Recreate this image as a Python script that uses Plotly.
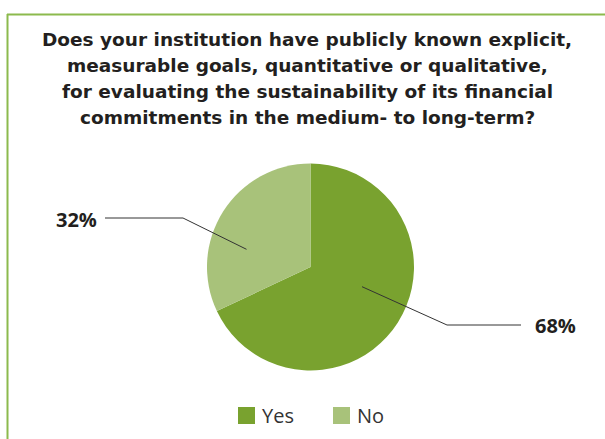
import plotly.graph_objects as go

# Survey answers and their shares (percent)
categories = ["Yes", "No"]
shares = [68, 32]
colors = ["#79a22f", "#a8c27a"]

title_lines = [
    "Does your institution have publicly known explicit,",
    "measurable goals, quantitative or qualitative,",
    "for evaluating the sustainability of its financial",
    "commitments in the medium- to long-term?",
]

W, H = 605, 439
TEXT = "#231f20"
FRAME = "#8cba4d"


def px(x):
    return x / W


def py(y):
    return 1 - y / H


# Pie geometry in pixels
cx, cy, r = 310.5, 267, 103.5

fig = go.Figure(
    go.Pie(
        labels=categories,
        values=shares,
        marker=dict(colors=colors, line=dict(width=0)),
        sort=False,
        direction="clockwise",
        rotation=0,
        textinfo="none",
        hoverinfo="label+percent",
        showlegend=False,
        domain=dict(x=[px(cx - r), px(cx + r)], y=[py(cy + r), py(cy - r)]),
    )
)

shapes = [
    # frame lines along top and left
    dict(type="line", xref="paper", yref="paper", x0=px(7), x1=px(605), y0=py(14.5), y1=py(14.5),
         line=dict(color=FRAME, width=2)),
    dict(type="line", xref="paper", yref="paper", x0=px(7.5), x1=px(7.5), y0=py(14), y1=py(439),
         line=dict(color=FRAME, width=2)),
]

annotations = []

# Title, one annotation per line for fixed spacing
for i, line in enumerate(title_lines):
    annotations.append(dict(
        text=line, xref="paper", yref="paper", x=px(307), y=py(39.5 + 26 * i),
        xanchor="center", yanchor="middle", showarrow=False,
        font=dict(family="DejaVu Sans", size=18.5, color=TEXT, weight="bold"),
    ))

# Leader lines and value labels: (inner point, elbow, outer end, label x, label y)
leaders = {
    "No": ((246.5, 249.3), (183, 218), (105, 218), 76, 219, "center"),
    "Yes": ((362, 286.7), (447, 325), (521, 325), 555, 325, "center"),
}
for cat, val in zip(categories, shares):
    (x0, y0), (x1, y1), (x2, y2), lx, ly, anc = leaders[cat]
    shapes.append(dict(
        type="path", xref="paper", yref="paper",
        path=f"M {px(x0)},{py(y0)} L {px(x1)},{py(y1)} L {px(x2)},{py(y2)}",
        line=dict(color="#333333", width=1),
    ))
    annotations.append(dict(
        text=f"{val}%", xref="paper", yref="paper", x=px(lx), y=py(ly),
        xanchor=anc, yanchor="middle", showarrow=False,
        font=dict(family="Open Sans", size=20, color=TEXT, weight="bold"),
    ))

# Legend swatches and labels
legend_pos = {"Yes": 238, "No": 333}
for cat, col in zip(categories, colors):
    x = legend_pos[cat]
    shapes.append(dict(
        type="rect", xref="paper", yref="paper",
        x0=px(x), x1=px(x + 17), y0=py(424), y1=py(407),
        fillcolor=col, line=dict(width=0),
    ))
    annotations.append(dict(
        text=cat, xref="paper", yref="paper", x=px(x + 22), y=py(415.5),
        xanchor="left", yanchor="middle", showarrow=False,
        font=dict(family="Open Sans", size=20, color="#333333"),
    ))

fig.update_layout(
    width=W, height=H,
    margin=dict(l=0, r=0, t=0, b=0),
    paper_bgcolor="white",
    plot_bgcolor="white",
    shapes=shapes,
    annotations=annotations,
)

fig.write_html("out.html")
